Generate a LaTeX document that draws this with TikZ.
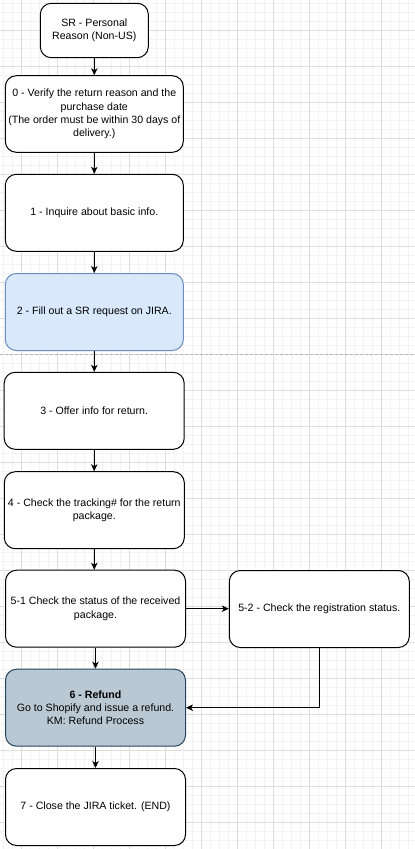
\documentclass[tikz,border=0pt]{standalone}
\usepackage{fontspec}
\setmainfont{Liberation Sans}
\usetikzlibrary{arrows.meta}
\definecolor{bluefill}{HTML}{DAE8FC}
\definecolor{bluestroke}{HTML}{6C8EBF}
\definecolor{slatefill}{HTML}{BAC8D3}
\definecolor{slatestroke}{HTML}{23445D}
\definecolor{gridmajor}{HTML}{DEDEDE}
\definecolor{gridminor}{HTML}{F3F3F3}
\definecolor{divider}{HTML}{B8B8B8}
\begin{document}
\begin{tikzpicture}[x=1pt,y=-1pt,
  flowbox/.style={draw=black, line width=1pt, fill=white, rounded corners=11pt,
    align=center, inner sep=0pt, minimum width=180pt, minimum height=77pt,
    font=\fontsize{10.6pt}{13.2pt}\selectfont},
  bluebox/.style={flowbox, draw=bluestroke, fill=bluefill},
  slatebox/.style={flowbox, draw=slatestroke, fill=slatefill},
  flow/.style={line width=1pt, -{Stealth[length=7pt,width=6.5pt,inset=2pt]}}]

% canvas and background grid
\useasboundingbox (0,0) rectangle (415,849);
\fill[white] (0,0) rectangle (415,849);
\foreach \i in {0,...,46} \draw[gridminor, line width=0.6pt] (3.3+9*\i,0) -- (3.3+9*\i,849);
\foreach \i in {0,...,94} \draw[gridminor, line width=0.6pt] (0,3.3+9*\i) -- (415,3.3+9*\i);
\foreach \i in {0,...,11} \draw[gridmajor, line width=0.7pt] (21.3+36*\i,0) -- (21.3+36*\i,849);
\foreach \i in {0,...,23} \draw[gridmajor, line width=0.7pt] (0,30.3+36*\i) -- (415,30.3+36*\i);

% section divider
\coordinate (divL) at (0,354.5);
\coordinate (divR) at (415,354.5);
\draw[divider, line width=0.8pt, dash pattern=on 3pt off 2pt] (divL) -- (divR);

% steps
\node[flowbox, minimum width=108pt, minimum height=54.4pt] (sr) at (94.3,30.5) {SR - Personal\\Reason (Non-US)};
\node[flowbox, minimum width=178pt, minimum height=76.6pt] (s0) at (94.3,114) {0 - Verify the return reason and the\\purchase date\\(The order must be within 30 days of\\delivery.)};
\node[flowbox, minimum width=178pt] (s1) at (94.3,212.8) {1 - Inquire about basic info.};
\node[bluebox, minimum width=178pt] (s2) at (94.3,312) {2 - Fill out a SR request on JIRA.};
\node[flowbox] (s3) at (94.2,410.8) {3 - Offer info for return.};
\node[flowbox] (s4) at (94.3,510.2) {4 - Check the tracking\# for the return\\package.};
\node[flowbox] (s51) at (95.5,608.7) {5-1 Check the status of the received\\package.};
\node[flowbox] (s52) at (319.3,609) {5-2 - Check the registration status.};
\node[slatebox] (s6) at (95.5,707.7) {\textbf{6 - Refund}\\Go to Shopify and issue a refund.\\KM: Refund Process};
\node[flowbox] (s7) at (95.5,807) {7 - Close the JIRA ticket. (END)};

% connectors
\draw[flow] (sr.south) -- (sr.south |- s0.north);
\draw[flow] (s0.south) -- (s0.south |- s1.north);
\draw[flow] (s1.south) -- (s1.south |- s2.north);
\draw[flow] (s2.south) -- (s2.south |- s3.north);
\draw[flow] (s3.south) -- (s3.south |- s4.north);
\draw[flow] (s4.south) -- (s4.south |- s51.north);
\draw[flow] (s51.south) -- (s51.south |- s6.north);
\draw[flow] (s6.south) -- (s6.south |- s7.north);
\draw[flow] (s51.east) -- (s51.east -| s52.west);
\draw[flow] (s52.south) |- (s6.east);
\end{tikzpicture}
\end{document}
